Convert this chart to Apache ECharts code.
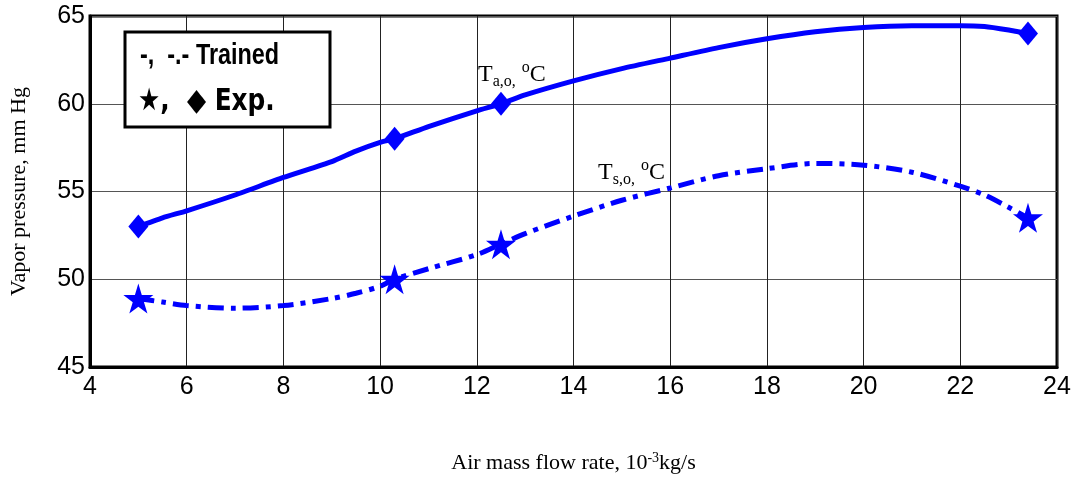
<!DOCTYPE html>
<html>
<head>
<meta charset="utf-8">
<script src="https://cdn.jsdelivr.net/npm/echarts@6/dist/echarts.min.js"></script>
<style>
  html, body { margin: 0; padding: 0; background: #fff; }
  #chart { width: 1078px; height: 483px; }
</style>
</head>
<body>
<div id="chart"></div>
<script>
// Trained curves
const trainedX = [5, 5.5, 6, 7, 8, 9, 9.5, 10, 10.3, 11, 12, 12.5, 13, 14, 15, 16, 17, 18, 19, 20, 21, 22, 22.5, 23, 23.4];
const trainedTa = [53, 53.5, 53.9, 54.8, 55.8, 56.7, 57.3, 57.8, 58, 58.7, 59.6, 60, 60.5, 61.3, 62.0, 62.6, 63.2, 63.7, 64.1, 64.35, 64.45, 64.45, 64.4, 64.2, 64];
const trainedTs = [48.9, 48.7, 48.5, 48.35, 48.5, 48.9, 49.2, 49.6, 50, 50.6, 51.4, 52, 52.6, 53.6, 54.5, 55.2, 55.9, 56.3, 56.6, 56.5, 56.1, 55.3, 54.8, 54.1, 53.5];

// Experimental points
const expX = [5, 10.3, 12.5, 23.4];
const expTa = [53, 58, 60, 64];
const expTs = [48.9, 50, 52, 53.5];

const xTicks = [4, 6, 8, 10, 12, 14, 16, 18, 20, 22, 24];
const yTicks = [45, 50, 55, 60, 65];

const starPath = "path://M50,0 L61,35 L98,35 L68,57 L79,91 L50,70 L21,91 L32,57 L2,35 L39,35 Z";
const blue = "#0000ff";

function pairs(xs, ys) {
  return xs.map(function (x, i) { return [x, ys[i]]; });
}

const labelRich = {
  n: { fontFamily: "Liberation Serif", fontSize: 24, fill: "#000" },
  b: { fontFamily: "Liberation Serif", fontSize: 16, fill: "#000", verticalAlign: "bottom", padding: [14, 0, 0, 0] },
  p: { fontFamily: "Liberation Serif", fontSize: 16, fill: "#000", verticalAlign: "top", padding: [0, 0, 12, 0] },
};

let chart = echarts.init(document.getElementById("chart"));

let option = {
  animation: false,
  backgroundColor: "#fff",
  grid: {
    left: 90,
    right: 21,
    top: 16,
    bottom: 116,
    outerBoundsMode: "none",
    show: true,
    borderColor: "#000",
    borderWidth: 3,
  },
  xAxis: {
    type: "value",
    min: xTicks[0],
    max: xTicks[xTicks.length - 1],
    interval: 2,
    name: "{n|Air mass flow rate, 10}{s|-3}{n|kg/s}",
    nameLocation: "middle",
    nameGap: 84,
    nameTextStyle: {
      rich: {
        n: { fontFamily: "Liberation Serif", fontSize: 22, color: "#000" },
        s: { fontFamily: "Liberation Serif", fontSize: 14, color: "#000", verticalAlign: "top", padding: [0, 0, 10, 0] },
      },
    },
    axisLine: { lineStyle: { color: "#000", width: 3 } },
    axisTick: { show: false },
    axisLabel: {
      color: "#000",
      fontFamily: "Liberation Sans",
      fontSize: 25,
      margin: 8,
    },
    splitLine: { lineStyle: { color: "#222", width: 1 } },
  },
  yAxis: {
    type: "value",
    min: yTicks[0],
    max: yTicks[yTicks.length - 1],
    interval: 5,
    name: "Vapor pressure, mm Hg",
    nameLocation: "middle",
    nameGap: 60,
    nameTextStyle: { fontFamily: "Liberation Serif", fontSize: 22, color: "#000" },
    axisLine: { lineStyle: { color: "#000", width: 3 } },
    axisTick: { show: false },
    axisLabel: {
      color: "#000",
      fontFamily: "Liberation Sans",
      fontSize: 25,
      margin: 5,
    },
    splitLine: { lineStyle: { color: "#555", width: 1 } },
  },
  series: [
    {
      name: "Ta trained",
      type: "line",
      data: pairs(trainedX, trainedTa),
      showSymbol: false,
      smooth: 0.2,
      lineStyle: { color: blue, width: 5 },
    },
    {
      name: "Ts trained",
      type: "line",
      data: pairs(trainedX, trainedTs),
      showSymbol: false,
      smooth: 0.3,
      lineStyle: { color: blue, width: 5, type: [16, 7, 5, 7] },
    },
    {
      name: "Ta exp",
      type: "scatter",
      data: pairs(expX, expTa),
      symbol: "diamond",
      symbolSize: [20, 24],
      itemStyle: { color: blue, opacity: 1 },
    },
    {
      name: "Ts exp",
      type: "scatter",
      data: pairs(expX, expTs),
      symbol: starPath,
      symbolSize: 30,
      itemStyle: { color: blue, opacity: 1 },
    },
  ],
  graphic: [
    {
      type: "rect",
      shape: { x: 125, y: 32, width: 205, height: 95 },
      style: { fill: "#fff", stroke: "#000", lineWidth: 3 },
      z: 100,
    },
    {
      type: "text",
      x: 140,
      y: 56,
      scaleX: 0.78,
      z: 101,
      style: {
        text: "-,  -.- Trained",
        fontFamily: "Liberation Sans",
        fontWeight: "bold",
        fontSize: 30,
        fill: "#000",
        verticalAlign: "middle",
      },
    },
    {
      type: "text",
      x: 138,
      y: 102,
      scaleX: 0.8,
      z: 101,
      style: {
        text: "★,  ◆ Exp.",
        fontFamily: "DejaVu Sans",
        fontWeight: "bold",
        fontSize: 31,
        fill: "#000",
        verticalAlign: "middle",
      },
    },
    {
      type: "text",
      x: 478,
      y: 60,
      z: 101,
      style: {
        text: "{n|T}{b|a,o,}{n| }{p|o}{n|C}",
        rich: labelRich,
      },
    },
    {
      type: "text",
      x: 598,
      y: 158,
      z: 101,
      style: {
        text: "{n|T}{b|s,o,}{n| }{p|o}{n|C}",
        rich: labelRich,
      },
    },
  ],
};

chart.setOption(option);

window.addEventListener("resize", function () {
  chart.resize();
});
</script>
</body>
</html>
